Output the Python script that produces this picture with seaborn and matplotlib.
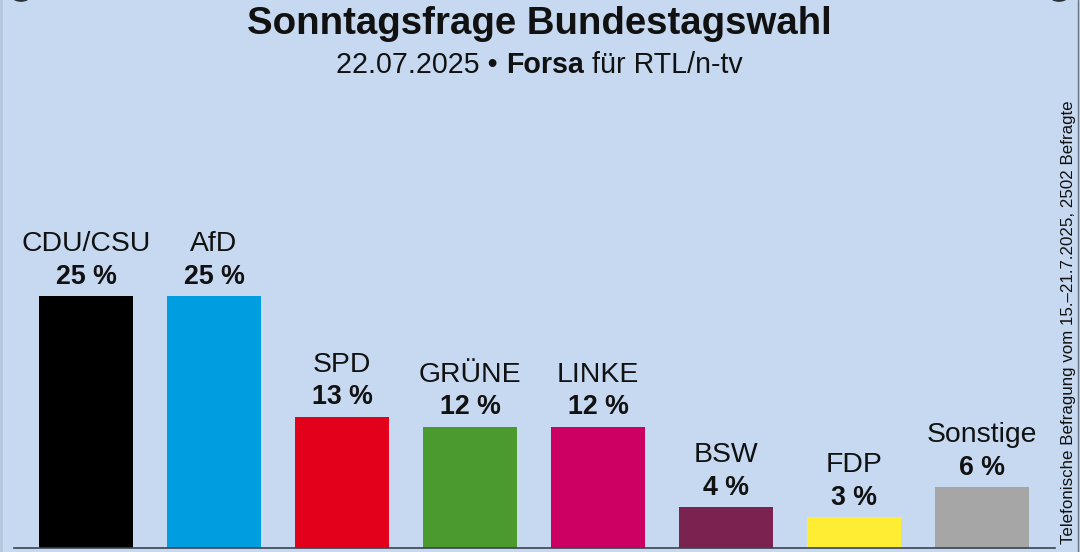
import matplotlib
matplotlib.use("Agg")
import matplotlib.pyplot as plt
from matplotlib.lines import Line2D
from matplotlib.patches import Circle
import pandas as pd
import seaborn as sns

# --- Data ---
parties = ["CDU/CSU", "AfD", "SPD", "GRÜNE", "LINKE", "BSW", "FDP", "Sonstige"]
values = [25, 25, 13, 12, 12, 4, 3, 6]
colors = ["#000000", "#009EE0", "#E3001B", "#4A9A2E", "#CC0063", "#7A2350", "#FFED33", "#A6A6A6"]

BG = "#C6D9F0"
W, H = 1080, 552

sns.set_theme(style="white")
plt.rcParams["font.family"] = ["Liberation Sans", "DejaVu Sans"]

df = pd.DataFrame({"party": parties, "value": values})

fig = plt.figure(figsize=(W / 100, H / 100), dpi=100, facecolor=BG)
# axes spans the baseline from x=14 to x=1055, baseline at y=547.5
ax = fig.add_axes([14 / W, (H - 547.5) / H, (1055 - 14) / W, 547.5 / H])
ax.set_facecolor("none")

sns.barplot(data=df, x="party", y="value", hue="party", palette=colors,
            dodge=False, legend=False, width=0.738, saturation=1, linewidth=0, ax=ax)

ax.set_xlim(-0.5625, 7.57)
ax.set_ylim(0, 54.4)
ax.set_xticks([])
ax.set_yticks([])
ax.set_xlabel("")
ax.set_ylabel("")
sns.despine(ax=ax, left=True)
ax.spines["bottom"].set_color("#3A4250")
ax.spines["bottom"].set_linewidth(1.2)

# --- Bar labels ---
for i, (party, val) in enumerate(zip(parties, values)):
    ax.annotate(f"{val} %", (i, val), xytext=(0, 4.5), textcoords="offset points",
                ha="center", va="bottom", fontsize=19.3, fontweight="bold", color="#111111")
    ax.annotate(party, (i, val), xytext=(0, 28), textcoords="offset points",
                ha="center", va="bottom", fontsize=20.4, color="#111111")

# --- Titles ---
fig.text(539 / W, 1 - 24.5 / H, "Sonntagsfrage Bundestagswahl", ha="center", va="center",
         fontsize=27.6, fontweight="bold", color="#111111")
sub = fig.text(336 / W, 1 - 65 / H, "22.07.2025 • ", ha="left", va="center", fontsize=20.6, color="#111111")
sub2 = ax.annotate("Forsa", xy=(1, 0), xycoords=sub, ha="left", va="bottom",
                   fontsize=20.6, fontweight="bold", color="#111111", annotation_clip=False)
ax.annotate(" für RTL/n-tv", xy=(1, 0), xycoords=sub2, ha="left", va="bottom",
            fontsize=20.6, color="#111111", annotation_clip=False)

fig.text(1068 / W, 1 - 544 / H, "Telefonische Befragung vom 15.–21.7.2025, 2502 Befragte",
         rotation=90, ha="center", va="bottom", fontsize=12.2, color="#111111")

# --- Frame and corner marks ---
fig.add_artist(Line2D([1078 / W, 1078 / W], [0, 1], color="#6A7686", lw=1))
fig.add_artist(Line2D([1 / W, 1 / W], [0, 1], color="#B5C6DC", lw=2))
for cx in (21, 1059):
    fig.add_artist(Circle((cx / W, 1 + 3 / H), 0.0075, color="#2A3038",
                          transform=fig.transFigure))

fig.savefig("out.png", dpi=100, facecolor=BG)
